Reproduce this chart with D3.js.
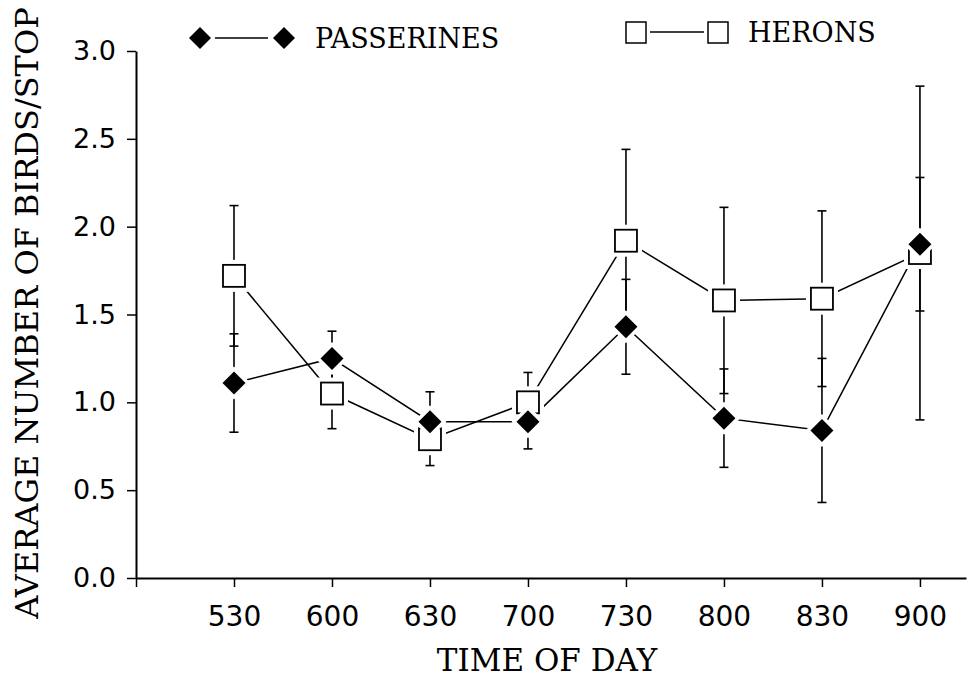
<!DOCTYPE html>
<html><head><meta charset="utf-8">
<script src="https://cdn.jsdelivr.net/npm/d3@7"></script>
<style>
body{margin:0;background:#fff;}
svg{display:block;}
</style></head>
<body>
<svg id="chart" width="968" height="677"></svg>
<script>
const categories = ["530","600","630","700","730","800","830","900"];
const passerines = [1.11, 1.25, 0.89, 0.89, 1.43, 0.91, 0.84, 1.90];
const passerinesErr = [0.28, 0.155, 0.17, 0.155, 0.27, 0.28, 0.41, 0.38];
const herons = [1.72, 1.05, 0.79, 1.00, 1.92, 1.58, 1.59, 1.85];
const heronsErr = [0.40, 0.20, 0.15, 0.17, 0.52, 0.53, 0.50, 0.95];
const yTicks = [0, 0.5, 1.0, 1.5, 2.0, 2.5, 3.0];

const svg = d3.select("#chart");
const serif = "'DejaVu Serif', serif";
const sans = "'DejaVu Sans', sans-serif";

const x = d3.scaleLinear().domain([-1, 7.47]).range([136, 966]);
const y = d3.scaleLinear().domain([0, 3]).range([578, 51]);

// X axis
const xAxis = d3.axisBottom(x)
  .tickValues(d3.range(-1, categories.length))
  .tickFormat(i => i >= 0 ? categories[i] : "")
  .tickSize(9).tickSizeOuter(0).tickPadding(19);
const gx = svg.append("g").attr("transform", `translate(0,${y(0)})`).call(xAxis);
gx.select(".domain").attr("stroke-width", 2);
gx.selectAll(".tick line").attr("stroke-width", 1.5);
gx.selectAll("text").attr("font-family", sans).attr("font-size", 28).attr("fill", "#000");

// Y axis
const yAxis = d3.axisLeft(y).tickValues(yTicks).tickFormat(d3.format(".1f"))
  .tickSize(9).tickSizeOuter(0).tickPadding(11);
const gy = svg.append("g").attr("transform", `translate(${x(-1)},0)`).call(yAxis);
gy.select(".domain").attr("stroke-width", 2);
gy.selectAll(".tick line").attr("stroke-width", 1.5);
gy.selectAll("text").attr("font-family", sans).attr("font-size", 27).attr("fill", "#000");

// Axis titles
svg.append("text").attr("x", 547).attr("y", 671).attr("text-anchor", "middle")
  .attr("font-family", serif).attr("font-size", 31).text("TIME OF DAY");
svg.append("text").attr("transform", "translate(38,313) rotate(-90)").attr("text-anchor", "middle")
  .attr("font-family", serif).attr("font-size", 32).text("AVERAGE NUMBER OF BIRDS/STOP");

const idx = d3.range(categories.length);
const line = d3.line().x((d, i) => x(i)).y(d => y(d));

const plot = svg.append("g");
// connecting lines
plot.append("path").datum(herons).attr("d", line).attr("fill", "none").attr("stroke", "#000").attr("stroke-width", 1.5);
plot.append("path").datum(passerines).attr("d", line).attr("fill", "none").attr("stroke", "#000").attr("stroke-width", 1.5);

// error bars
function errorBars(vals, errs) {
  const g = plot.append("g").attr("stroke", "#000").attr("stroke-width", 1.6);
  idx.forEach(i => {
    const lo = y(vals[i] - errs[i]), hi = y(vals[i] + errs[i]), cx = x(i);
    g.append("line").attr("x1", cx).attr("x2", cx).attr("y1", lo).attr("y2", hi);
    g.append("line").attr("x1", cx - 4.5).attr("x2", cx + 4.5).attr("y1", lo).attr("y2", lo);
    g.append("line").attr("x1", cx - 4.5).attr("x2", cx + 4.5).attr("y1", hi).attr("y2", hi);
  });
}
errorBars(herons, heronsErr);
errorBars(passerines, passerinesErr);

// markers
const sq = 22, halo = 5;
const gH = plot.append("g");
idx.forEach(i => {
  gH.append("rect").attr("x", x(i) - sq/2 - halo).attr("y", y(herons[i]) - sq/2 - halo)
    .attr("width", sq + 2*halo).attr("height", sq + 2*halo).attr("fill", "#fff");
  gH.append("rect").attr("x", x(i) - sq/2).attr("y", y(herons[i]) - sq/2)
    .attr("width", sq).attr("height", sq).attr("fill", "#fff").attr("stroke", "#000").attr("stroke-width", 1.8);
});
const dr = 11.5;
const diamond = (cx, cy, r) => `M${cx},${cy-r}L${cx+r},${cy}L${cx},${cy+r}L${cx-r},${cy}Z`;
const gP = plot.append("g");
idx.forEach(i => {
  gP.append("path").attr("d", diamond(x(i), y(passerines[i]), dr + 5)).attr("fill", "#fff");
  gP.append("path").attr("d", diamond(x(i), y(passerines[i]), dr)).attr("fill", "#000");
});

// legend
const lg = svg.append("g");
lg.append("path").attr("d", diamond(200, 38, 11)).attr("fill", "#000");
lg.append("line").attr("x1", 215).attr("x2", 268).attr("y1", 38).attr("y2", 38).attr("stroke", "#000").attr("stroke-width", 1.5);
lg.append("path").attr("d", diamond(284, 38, 11)).attr("fill", "#000");
lg.append("text").attr("x", 315).attr("y", 48).attr("font-family", serif).attr("font-size", 27).text("PASSERINES");

lg.append("rect").attr("x", 626).attr("y", 22).attr("width", 20).attr("height", 21).attr("fill", "#fff").attr("stroke", "#000").attr("stroke-width", 1.5);
lg.append("line").attr("x1", 650).attr("x2", 704).attr("y1", 32).attr("y2", 32).attr("stroke", "#000").attr("stroke-width", 1.5);
lg.append("rect").attr("x", 708).attr("y", 22).attr("width", 20).attr("height", 21).attr("fill", "#fff").attr("stroke", "#000").attr("stroke-width", 1.5);
lg.append("text").attr("x", 748).attr("y", 42).attr("font-family", serif).attr("font-size", 27).text("HERONS");
</script>
</body></html>
